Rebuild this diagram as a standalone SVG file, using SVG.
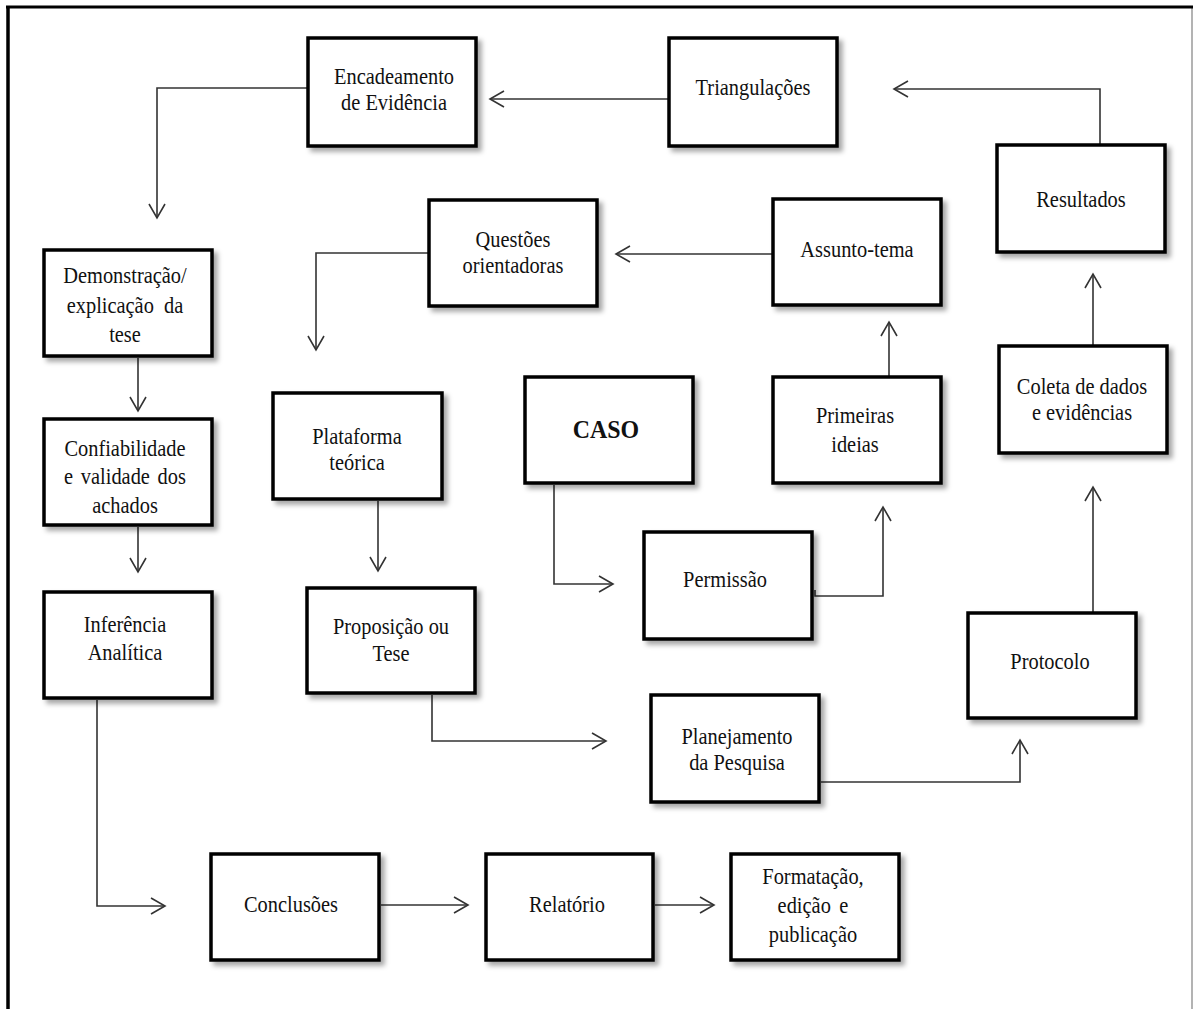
<svg xmlns="http://www.w3.org/2000/svg" width="1194" height="1009" viewBox="0 0 1194 1009">
  <defs>
    <style>
      .box { fill: #ffffff; stroke: #000000; stroke-width: 3.5; filter: url(#shadow); }
      text { font-family: 'Liberation Serif', 'DejaVu Serif', serif; }
      .lbl { font-size: 24px; fill: #111111; text-anchor: middle; }
      .big { font-size: 26px; font-weight: bold; }
      .link { fill: none; stroke: #333333; stroke-width: 1.6; marker-end: url(#arrow); }
    </style>
    <filter id="shadow" x="-10%" y="-10%" width="130%" height="130%">
      <feDropShadow dx="4" dy="4" stdDeviation="2.5" flood-color="#000000" flood-opacity="0.35"/>
    </filter>
    <marker id="arrow" markerUnits="userSpaceOnUse" markerWidth="20" markerHeight="20" refX="16" refY="10" orient="auto">
      <path d="M2,2 L16,10 L2,18" fill="none" stroke="#333333" stroke-width="1.6"/>
    </marker>
  </defs>

  <!-- page frame -->
  <g id="frame">
    <line x1="1192" y1="7" x2="1192" y2="1009" stroke="#9a9a9a" stroke-width="1.5"/>
    <line x1="6" y1="7" x2="1193" y2="7" stroke="#000000" stroke-width="3"/>
    <line x1="8" y1="6" x2="8" y2="1009" stroke="#000000" stroke-width="3.5"/>
  </g>

  <!-- connectors -->
  <g id="connectors">
    <path class="link" d="M669,99 H490"/>
    <path class="link" d="M1100,145 V89 H894"/>
    <path class="link" d="M308,88 H157 V218"/>
    <path class="link" d="M773,254 H616"/>
    <path class="link" d="M429,253 H316 V350"/>
    <path class="link" d="M138,358 V411"/>
    <path class="link" d="M138,527 V572"/>
    <path class="link" d="M378,501 V571"/>
    <path class="link" d="M97,700 V906 H165"/>
    <path class="link" d="M381,905 H468"/>
    <path class="link" d="M655,905 H714"/>
    <path class="link" d="M432,695 V741 H606"/>
    <path class="link" d="M821,782 H1020 V740"/>
    <path class="link" d="M1093,613 V487"/>
    <path class="link" d="M1093,350 V274"/>
    <path class="link" d="M889,377 V322"/>
    <path class="link" d="M554,485 V584 H613"/>
    <path class="link" d="M815,590 V596 H883 V507"/>
  </g>

  <g id="nodes" font-family="Liberation Serif, serif">
  <g id="encadeamento">
    <rect class="box" x="308" y="38" width="168" height="108"/>
    <text class="lbl" transform="translate(394 0) scale(0.85 1)"><tspan x="0" y="84">Encadeamento</tspan><tspan x="0" y="110">de Evidência</tspan></text>
  </g>
  <g id="triangulacoes">
    <rect class="box" x="669" y="38" width="168" height="108"/>
    <text class="lbl" transform="translate(753 0) scale(0.85 1)"><tspan x="0" y="95">Triangulações</tspan></text>
  </g>
  <g id="resultados">
    <rect class="box" x="997" y="145" width="168" height="107"/>
    <text class="lbl" transform="translate(1081 0) scale(0.85 1)"><tspan x="0" y="207">Resultados</tspan></text>
  </g>
  <g id="questoes">
    <rect class="box" x="429" y="200" width="168" height="106"/>
    <text class="lbl" transform="translate(513 0) scale(0.85 1)"><tspan x="0" y="247">Questões</tspan><tspan x="0" y="273">orientadoras</tspan></text>
  </g>
  <g id="assunto">
    <rect class="box" x="773" y="199" width="168" height="106"/>
    <text class="lbl" transform="translate(857 0) scale(0.85 1)"><tspan x="0" y="257">Assunto-tema</tspan></text>
  </g>
  <g id="demonstracao">
    <rect class="box" x="44" y="250" width="168" height="106"/>
    <text class="lbl" transform="translate(125 0) scale(0.85 1)"><tspan x="0" y="283">Demonstração/</tspan><tspan x="0" y="313" word-spacing="6">explicação da</tspan><tspan x="0" y="342">tese</tspan></text>
  </g>
  <g id="confiabilidade">
    <rect class="box" x="44" y="419" width="168" height="106"/>
    <text class="lbl" transform="translate(125 0) scale(0.85 1)"><tspan x="0" y="456">Confiabilidade</tspan><tspan x="0" y="484" word-spacing="3">e validade dos</tspan><tspan x="0" y="513">achados</tspan></text>
  </g>
  <g id="inferencia">
    <rect class="box" x="44" y="592" width="168" height="106"/>
    <text class="lbl" transform="translate(125 0) scale(0.85 1)"><tspan x="0" y="632">Inferência</tspan><tspan x="0" y="660">Analítica</tspan></text>
  </g>
  <g id="plataforma">
    <rect class="box" x="273" y="393" width="169" height="106"/>
    <text class="lbl" transform="translate(357 0) scale(0.85 1)"><tspan x="0" y="444">Plataforma</tspan><tspan x="0" y="470">teórica</tspan></text>
  </g>
  <g id="proposicao">
    <rect class="box" x="307" y="588" width="168" height="105"/>
    <text class="lbl" transform="translate(391 0) scale(0.85 1)"><tspan x="0" y="634">Proposição ou</tspan><tspan x="0" y="661">Tese</tspan></text>
  </g>
  <g id="caso">
    <rect class="box" x="525" y="377" width="168" height="106"/>
    <text class="lbl big" transform="translate(606 0) scale(0.92 1)"><tspan x="0" y="438">CASO</tspan></text>
  </g>
  <g id="primeiras">
    <rect class="box" x="773" y="377" width="168" height="106"/>
    <text class="lbl" transform="translate(855 0) scale(0.85 1)"><tspan x="0" y="423">Primeiras</tspan><tspan x="0" y="452">ideias</tspan></text>
  </g>
  <g id="coleta">
    <rect class="box" x="999" y="346" width="168" height="107"/>
    <text class="lbl" transform="translate(1082 0) scale(0.85 1)"><tspan x="0" y="394">Coleta de dados</tspan><tspan x="0" y="420">e evidências</tspan></text>
  </g>
  <g id="permissao">
    <rect class="box" x="644" y="532" width="168" height="107"/>
    <text class="lbl" transform="translate(725 0) scale(0.85 1)"><tspan x="0" y="587">Permissão</tspan></text>
  </g>
  <g id="protocolo">
    <rect class="box" x="968" y="613" width="168" height="105"/>
    <text class="lbl" transform="translate(1050 0) scale(0.85 1)"><tspan x="0" y="669">Protocolo</tspan></text>
  </g>
  <g id="planejamento">
    <rect class="box" x="651" y="695" width="168" height="107"/>
    <text class="lbl" transform="translate(737 0) scale(0.85 1)"><tspan x="0" y="744">Planejamento</tspan><tspan x="0" y="770">da Pesquisa</tspan></text>
  </g>
  <g id="conclusoes">
    <rect class="box" x="211" y="854" width="168" height="106"/>
    <text class="lbl" transform="translate(291 0) scale(0.85 1)"><tspan x="0" y="912">Conclusões</tspan></text>
  </g>
  <g id="relatorio">
    <rect class="box" x="486" y="854" width="167" height="106"/>
    <text class="lbl" transform="translate(567 0) scale(0.85 1)"><tspan x="0" y="912">Relatório</tspan></text>
  </g>
  <g id="formatacao">
    <rect class="box" x="731" y="854" width="168" height="106"/>
    <text class="lbl" transform="translate(813 0) scale(0.85 1)"><tspan x="0" y="884">Formatação,</tspan><tspan x="0" y="913" word-spacing="4">edição e</tspan><tspan x="0" y="942">publicação</tspan></text>
  </g>
  </g>
</svg>
